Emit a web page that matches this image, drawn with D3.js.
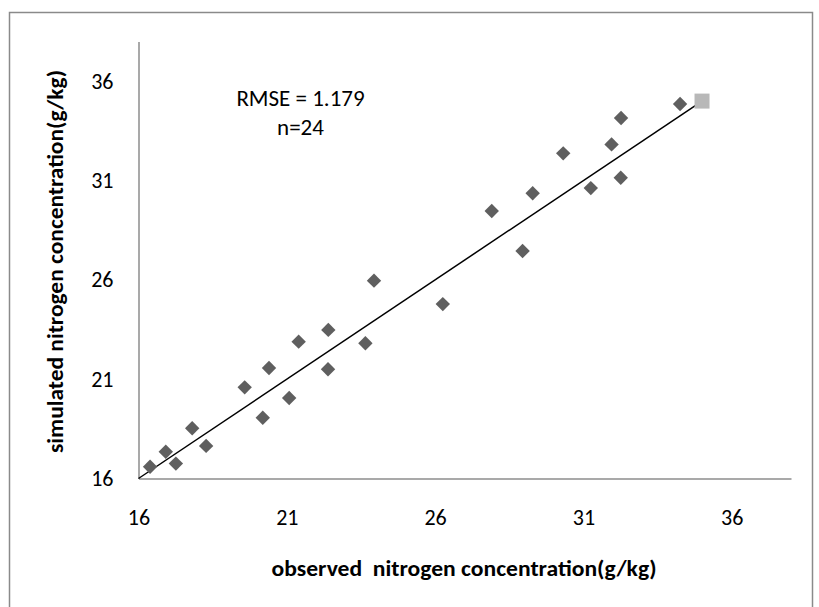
<!DOCTYPE html>
<html>
<head>
<meta charset="utf-8">
<script src="https://cdn.jsdelivr.net/npm/d3@7"></script>
<style>
  body { margin: 0; background: #fff; }
  svg text { font-family: Carlito, Lato, "Open Sans", sans-serif; fill: #000; }
</style>
</head>
<body>
<div id="container"></div>
<script>
const width = 819;
const height = 607;

// observed vs simulated nitrogen (g/kg)
const observed = [16.39, 16.92, 17.26, 17.81, 18.28, 19.58, 20.19, 20.40, 21.08, 21.40, 22.40, 22.39,
	23.65, 23.94, 26.26, 27.91, 28.95, 29.29, 30.32, 31.25, 31.95, 32.26, 32.27, 34.26];
const simulated = [16.59, 17.35, 16.75, 18.53, 17.64, 20.59, 19.06, 21.56, 20.05, 22.89, 23.48, 21.50,
	22.81, 25.96, 24.78, 29.47, 27.45, 30.36, 32.37, 30.62, 32.82, 31.14, 34.15, 34.85];
// 1:1 line and its end marker
const lineX = [16, 35];
const lineY = [16, 35];
const tickValues = [16, 21, 26, 31, 36];
const statLines = ["RMSE = 1.179", "n=24"];

const svg = d3.select("#container")
	.append("svg")
	.attr("width", width)
	.attr("height", height);

// outer frame
svg.append("rect")
	.attr("x", 9.5).attr("y", 12.5)
	.attr("width", 803).attr("height", 620)
	.attr("fill", "none")
	.attr("stroke", "#8a8a8a")
	.attr("stroke-width", 1.5);

const x = d3.scaleLinear().domain([16, 38]).range([138.5, 791]);
const y = d3.scaleLinear().domain([16, 38]).range([478.5, 41.5]);

// axes (no tick marks, just the labels)
const xAxis = svg.append("g")
	.attr("transform", "translate(0," + y(16) + ")")
	.call(d3.axisBottom(x).tickValues(tickValues).tickSize(0).tickPadding(31));
const yAxis = svg.append("g")
	.attr("transform", "translate(" + x(16) + ",0)")
	.call(d3.axisLeft(y).tickValues(tickValues).tickSize(0).tickPadding(25));

[xAxis, yAxis].forEach(g => {
	g.select(".domain").attr("stroke", "#8c8c8c").attr("stroke-width", 1.5);
	g.selectAll("text")
		.attr("font-family", null)
		.style("font-size", "22px")
		.attr("fill", "#000");
});

// 1:1 line
svg.append("line")
	.attr("x1", x(lineX[0])).attr("y1", y(lineY[0]))
	.attr("x2", x(lineX[1])).attr("y2", y(lineY[1]))
	.attr("stroke", "#000")
	.attr("stroke-width", 1.5);

svg.append("rect")
	.attr("x", x(lineX[1]) - 7.5).attr("y", y(lineY[1]) - 7.5)
	.attr("width", 15).attr("height", 15)
	.attr("fill", "#b8b8b8");

// points
const points = observed.map((d, i) => ({ o: d, s: simulated[i] }));
svg.selectAll(".pt")
	.data(points)
	.enter()
	.append("path")
	.attr("class", "pt")
	.attr("d", "M0,-7.2L7.2,0L0,7.2L-7.2,0Z")
	.attr("transform", d => "translate(" + x(d.o) + "," + y(d.s) + ")")
	.attr("fill", "#5f5f5f");

// stats text
svg.selectAll(".stat")
	.data(statLines)
	.enter()
	.append("text")
	.attr("class", "stat")
	.attr("x", 300.5)
	.attr("y", (d, i) => 105.5 + i * 29.5)
	.attr("text-anchor", "middle")
	.style("font-size", "23px")
	.text(d => d);

// axis titles
svg.append("text")
	.attr("x", 464).attr("y", 576)
	.attr("text-anchor", "middle")
	.attr("font-weight", "bold")
	.attr("textLength", 385)
	.attr("lengthAdjust", "spacingAndGlyphs")
	.style("font-size", "22px")
	.style("white-space", "pre")
	.text("observed  nitrogen concentration(g/kg)");

svg.append("text")
	.attr("transform", "translate(63,261.5)rotate(-90)")
	.attr("text-anchor", "middle")
	.attr("font-weight", "bold")
	.attr("textLength", 383)
	.attr("lengthAdjust", "spacingAndGlyphs")
	.style("font-size", "22px")
	.text("simulated nitrogen concentration(g/kg)");
</script>
</body>
</html>
